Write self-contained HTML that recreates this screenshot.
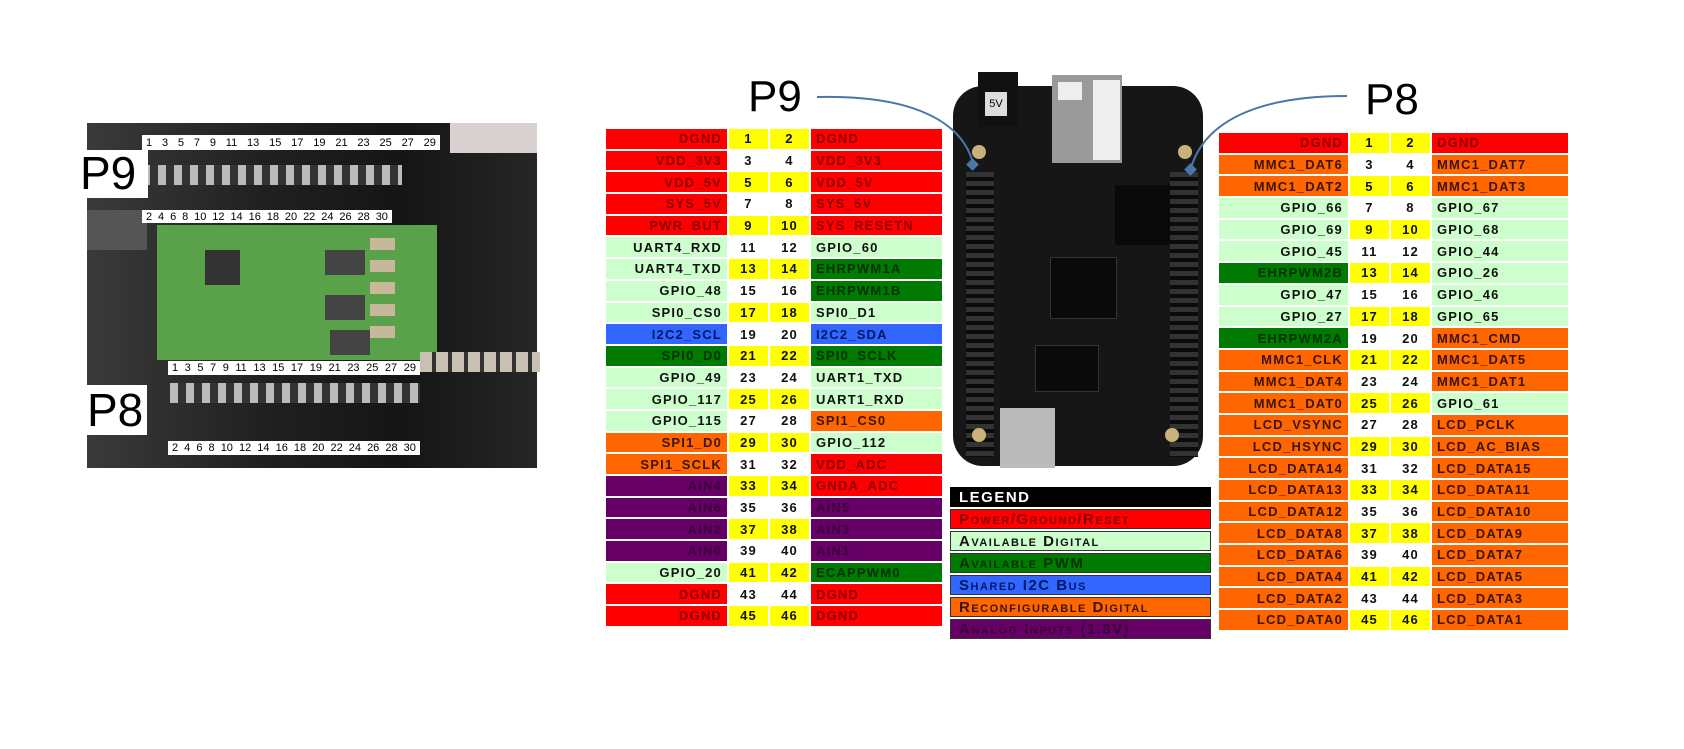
<!DOCTYPE html>
<html><head><meta charset="utf-8">
<style>
body{margin:0;width:1684px;height:749px;background:#fff;position:relative;overflow:hidden;font-family:"Liberation Sans",sans-serif}
.abs{position:absolute}
table.pin{position:absolute;border-collapse:separate;border-spacing:2px;table-layout:fixed}
table.pin td{height:19.7px;padding:0 5px;font-weight:bold;font-size:13px;letter-spacing:1.2px;white-space:nowrap;overflow:hidden}
td.l{text-align:right}
td.n{text-align:center;color:#111;padding:0}
.y{background:#ffff00}.w{background:#fff}
.R{background:#ff0000;color:#8a0000}
.G{background:#ccffcc;color:#111}
.D{background:#007a00;color:#003300}
.B{background:#3366ff;color:#001a66}
.O{background:#ff6600;color:#3a1500}
.P{background:#660066;color:#3c003c}
.big{font-size:44px;color:#000}
.leg div{height:20px;margin-bottom:2px;font-weight:bold;font-variant:small-caps;font-size:15px;letter-spacing:1.5px;padding-left:8px;line-height:20px;border:1px solid #333;box-sizing:border-box;white-space:nowrap}
.strip{position:absolute;background:#fff;display:flex;justify-content:space-between;font-size:11px;padding:0 4px;box-sizing:border-box;align-items:center;white-space:nowrap}
</style></head><body>

<div class="abs" style="left:87px;top:123px;width:450px;height:345px;background:linear-gradient(90deg,#3a3a3a,#202020 40%,#151515 70%,#262626)"></div>
<div class="abs" style="left:450px;top:123px;width:87px;height:30px;background:#d9d0d0"></div>
<div class="abs" style="left:87px;top:210px;width:60px;height:40px;background:#555"></div>
<div class="abs" style="left:142px;top:165px;width:260px;height:20px;background:repeating-linear-gradient(90deg,#bbb 0 8px,#333 8px 16px)"></div>
<div class="abs" style="left:170px;top:383px;width:250px;height:20px;background:repeating-linear-gradient(90deg,#bbb 0 8px,#333 8px 16px)"></div>
<div class="abs" style="left:157px;top:225px;width:280px;height:135px;background:#5aa24a"></div>
<div class="abs" style="left:205px;top:250px;width:35px;height:35px;background:#333"></div>
<div class="abs" style="left:325px;top:250px;width:40px;height:25px;background:#444"></div>
<div class="abs" style="left:325px;top:295px;width:40px;height:25px;background:#444"></div>
<div class="abs" style="left:330px;top:330px;width:40px;height:25px;background:#444"></div>
<div class="abs" style="left:370px;top:238px;width:25px;height:110px;background:repeating-linear-gradient(#c8b89a 0 12px,#5aa24a 12px 22px)"></div>
<div class="abs" style="left:420px;top:352px;width:120px;height:20px;background:repeating-linear-gradient(90deg,#c8c0b0 0 12px,#333 12px 16px)"></div>
<div class="strip" style="left:142px;top:135px;width:298px;height:15px"><span>1</span><span>3</span><span>5</span><span>7</span><span>9</span><span>11</span><span>13</span><span>15</span><span>17</span><span>19</span><span>21</span><span>23</span><span>25</span><span>27</span><span>29</span></div>
<div class="strip" style="left:142px;top:210px;width:250px;height:13px"><span>2</span><span>4</span><span>6</span><span>8</span><span>10</span><span>12</span><span>14</span><span>16</span><span>18</span><span>20</span><span>22</span><span>24</span><span>26</span><span>28</span><span>30</span></div>
<div class="strip" style="left:168px;top:361px;width:252px;height:14px"><span>1</span><span>3</span><span>5</span><span>7</span><span>9</span><span>11</span><span>13</span><span>15</span><span>17</span><span>19</span><span>21</span><span>23</span><span>25</span><span>27</span><span>29</span></div>
<div class="strip" style="left:168px;top:441px;width:252px;height:14px"><span>2</span><span>4</span><span>6</span><span>8</span><span>10</span><span>12</span><span>14</span><span>16</span><span>18</span><span>20</span><span>22</span><span>24</span><span>26</span><span>28</span><span>30</span></div>
<div class="abs" style="left:80px;top:150px;width:68px;height:48px;background:#fff;font-size:46px;line-height:46px">P9</div>
<div class="abs" style="left:87px;top:385px;width:60px;height:50px;background:#fff;font-size:46px;line-height:50px">P8</div>

<div class="abs big" style="left:748px;top:72px">P9</div>
<div class="abs big" style="left:1365px;top:75px">P8</div>

<div class="abs" style="left:953px;top:86px;width:250px;height:380px;background:#161616;border-radius:30px"></div>
<div class="abs" style="left:978px;top:72px;width:40px;height:55px;background:#111"></div>
<div class="abs" style="left:985px;top:92px;width:22px;height:24px;background:#ddd;font-size:11px;text-align:center;line-height:24px">5V</div>
<div class="abs" style="left:1052px;top:75px;width:70px;height:88px;background:#9a9a9a"></div>
<div class="abs" style="left:1093px;top:80px;width:27px;height:80px;background:#eee"></div>
<div class="abs" style="left:1058px;top:82px;width:24px;height:18px;background:#eee"></div>
<div class="abs" style="left:966px;top:172px;width:28px;height:285px;background:repeating-linear-gradient(#333 0 5px,#0a0a0a 5px 9px)"></div>
<div class="abs" style="left:1170px;top:172px;width:28px;height:285px;background:repeating-linear-gradient(#333 0 5px,#0a0a0a 5px 9px)"></div>
<div class="abs" style="left:1050px;top:257px;width:65px;height:60px;background:#0a0a0a;border:1px solid #333"></div>
<div class="abs" style="left:1115px;top:185px;width:55px;height:60px;background:#0a0a0a"></div>
<div class="abs" style="left:1035px;top:345px;width:62px;height:45px;background:#0a0a0a;border:1px solid #333"></div>
<div class="abs" style="left:1000px;top:408px;width:55px;height:60px;background:#bbb"></div>
<div class="abs" style="left:972px;top:145px;width:14px;height:14px;border-radius:50%;background:#c9b27a"></div>
<div class="abs" style="left:1178px;top:145px;width:14px;height:14px;border-radius:50%;background:#c9b27a"></div>
<div class="abs" style="left:972px;top:428px;width:14px;height:14px;border-radius:50%;background:#c9b27a"></div>
<div class="abs" style="left:1165px;top:428px;width:14px;height:14px;border-radius:50%;background:#c9b27a"></div>

<svg class="abs" style="left:0;top:0" width="1684" height="749">
<path d="M817 97 C900 95 960 115 973 163" fill="none" stroke="#4a76a8" stroke-width="2"/>
<rect x="968" y="160" width="9" height="9" fill="#4a76a8" transform="rotate(45 972.5 164.5)"/>
<path d="M1347 96 C1260 96 1205 120 1191 168" fill="none" stroke="#4a76a8" stroke-width="2"/>
<rect x="1186" y="165" width="9" height="9" fill="#4a76a8" transform="rotate(45 1190.5 169.5)"/>
</svg>

<table class="pin" style="left:604px;top:127px;width:340px">
<colgroup><col style="width:121px"><col style="width:39px"><col style="width:39px"><col></colgroup>
<tr><td class="l R">DGND</td><td class="n y">1</td><td class="n y">2</td><td class="R">DGND</td></tr>
<tr><td class="l R">VDD_3V3</td><td class="n w">3</td><td class="n w">4</td><td class="R">VDD_3V3</td></tr>
<tr><td class="l R">VDD_5V</td><td class="n y">5</td><td class="n y">6</td><td class="R">VDD_5V</td></tr>
<tr><td class="l R">SYS_5V</td><td class="n w">7</td><td class="n w">8</td><td class="R">SYS_5V</td></tr>
<tr><td class="l R">PWR_BUT</td><td class="n y">9</td><td class="n y">10</td><td class="R">SYS_RESETN</td></tr>
<tr><td class="l G">UART4_RXD</td><td class="n w">11</td><td class="n w">12</td><td class="G">GPIO_60</td></tr>
<tr><td class="l G">UART4_TXD</td><td class="n y">13</td><td class="n y">14</td><td class="D">EHRPWM1A</td></tr>
<tr><td class="l G">GPIO_48</td><td class="n w">15</td><td class="n w">16</td><td class="D">EHRPWM1B</td></tr>
<tr><td class="l G">SPI0_CS0</td><td class="n y">17</td><td class="n y">18</td><td class="G">SPI0_D1</td></tr>
<tr><td class="l B">I2C2_SCL</td><td class="n w">19</td><td class="n w">20</td><td class="B">I2C2_SDA</td></tr>
<tr><td class="l D">SPI0_D0</td><td class="n y">21</td><td class="n y">22</td><td class="D">SPI0_SCLK</td></tr>
<tr><td class="l G">GPIO_49</td><td class="n w">23</td><td class="n w">24</td><td class="G">UART1_TXD</td></tr>
<tr><td class="l G">GPIO_117</td><td class="n y">25</td><td class="n y">26</td><td class="G">UART1_RXD</td></tr>
<tr><td class="l G">GPIO_115</td><td class="n w">27</td><td class="n w">28</td><td class="O">SPI1_CS0</td></tr>
<tr><td class="l O">SPI1_D0</td><td class="n y">29</td><td class="n y">30</td><td class="G">GPIO_112</td></tr>
<tr><td class="l O">SPI1_SCLK</td><td class="n w">31</td><td class="n w">32</td><td class="R">VDD_ADC</td></tr>
<tr><td class="l P">AIN4</td><td class="n y">33</td><td class="n y">34</td><td class="R">GNDA_ADC</td></tr>
<tr><td class="l P">AIN6</td><td class="n w">35</td><td class="n w">36</td><td class="P">AIN5</td></tr>
<tr><td class="l P">AIN2</td><td class="n y">37</td><td class="n y">38</td><td class="P">AIN3</td></tr>
<tr><td class="l P">AIN0</td><td class="n w">39</td><td class="n w">40</td><td class="P">AIN1</td></tr>
<tr><td class="l G">GPIO_20</td><td class="n y">41</td><td class="n y">42</td><td class="D">ECAPPWM0</td></tr>
<tr><td class="l R">DGND</td><td class="n w">43</td><td class="n w">44</td><td class="R">DGND</td></tr>
<tr><td class="l R">DGND</td><td class="n y">45</td><td class="n y">46</td><td class="R">DGND</td></tr>
</table>

<table class="pin" style="left:1217px;top:131px;width:353px">
<colgroup><col style="width:129px"><col style="width:39px"><col style="width:39px"><col></colgroup>
<tr><td class="l R">DGND</td><td class="n y">1</td><td class="n y">2</td><td class="R">DGND</td></tr>
<tr><td class="l O">MMC1_DAT6</td><td class="n w">3</td><td class="n w">4</td><td class="O">MMC1_DAT7</td></tr>
<tr><td class="l O">MMC1_DAT2</td><td class="n y">5</td><td class="n y">6</td><td class="O">MMC1_DAT3</td></tr>
<tr><td class="l G">GPIO_66</td><td class="n w">7</td><td class="n w">8</td><td class="G">GPIO_67</td></tr>
<tr><td class="l G">GPIO_69</td><td class="n y">9</td><td class="n y">10</td><td class="G">GPIO_68</td></tr>
<tr><td class="l G">GPIO_45</td><td class="n w">11</td><td class="n w">12</td><td class="G">GPIO_44</td></tr>
<tr><td class="l D">EHRPWM2B</td><td class="n y">13</td><td class="n y">14</td><td class="G">GPIO_26</td></tr>
<tr><td class="l G">GPIO_47</td><td class="n w">15</td><td class="n w">16</td><td class="G">GPIO_46</td></tr>
<tr><td class="l G">GPIO_27</td><td class="n y">17</td><td class="n y">18</td><td class="G">GPIO_65</td></tr>
<tr><td class="l D">EHRPWM2A</td><td class="n w">19</td><td class="n w">20</td><td class="O">MMC1_CMD</td></tr>
<tr><td class="l O">MMC1_CLK</td><td class="n y">21</td><td class="n y">22</td><td class="O">MMC1_DAT5</td></tr>
<tr><td class="l O">MMC1_DAT4</td><td class="n w">23</td><td class="n w">24</td><td class="O">MMC1_DAT1</td></tr>
<tr><td class="l O">MMC1_DAT0</td><td class="n y">25</td><td class="n y">26</td><td class="G">GPIO_61</td></tr>
<tr><td class="l O">LCD_VSYNC</td><td class="n w">27</td><td class="n w">28</td><td class="O">LCD_PCLK</td></tr>
<tr><td class="l O">LCD_HSYNC</td><td class="n y">29</td><td class="n y">30</td><td class="O">LCD_AC_BIAS</td></tr>
<tr><td class="l O">LCD_DATA14</td><td class="n w">31</td><td class="n w">32</td><td class="O">LCD_DATA15</td></tr>
<tr><td class="l O">LCD_DATA13</td><td class="n y">33</td><td class="n y">34</td><td class="O">LCD_DATA11</td></tr>
<tr><td class="l O">LCD_DATA12</td><td class="n w">35</td><td class="n w">36</td><td class="O">LCD_DATA10</td></tr>
<tr><td class="l O">LCD_DATA8</td><td class="n y">37</td><td class="n y">38</td><td class="O">LCD_DATA9</td></tr>
<tr><td class="l O">LCD_DATA6</td><td class="n w">39</td><td class="n w">40</td><td class="O">LCD_DATA7</td></tr>
<tr><td class="l O">LCD_DATA4</td><td class="n y">41</td><td class="n y">42</td><td class="O">LCD_DATA5</td></tr>
<tr><td class="l O">LCD_DATA2</td><td class="n w">43</td><td class="n w">44</td><td class="O">LCD_DATA3</td></tr>
<tr><td class="l O">LCD_DATA0</td><td class="n y">45</td><td class="n y">46</td><td class="O">LCD_DATA1</td></tr>
</table>

<div class="abs leg" style="left:950px;top:487px;width:261px">
<div style="background:#000;color:#fff;border-color:#000;font-variant:normal">LEGEND</div>
<div class="R">Power/Ground/Reset</div>
<div class="G">Available Digital</div>
<div class="D">Available PWM</div>
<div class="B">Shared I2C Bus</div>
<div class="O">Reconfigurable Digital</div>
<div class="P">Analog Inputs (1.8V)</div>
</div>
</body></html>
